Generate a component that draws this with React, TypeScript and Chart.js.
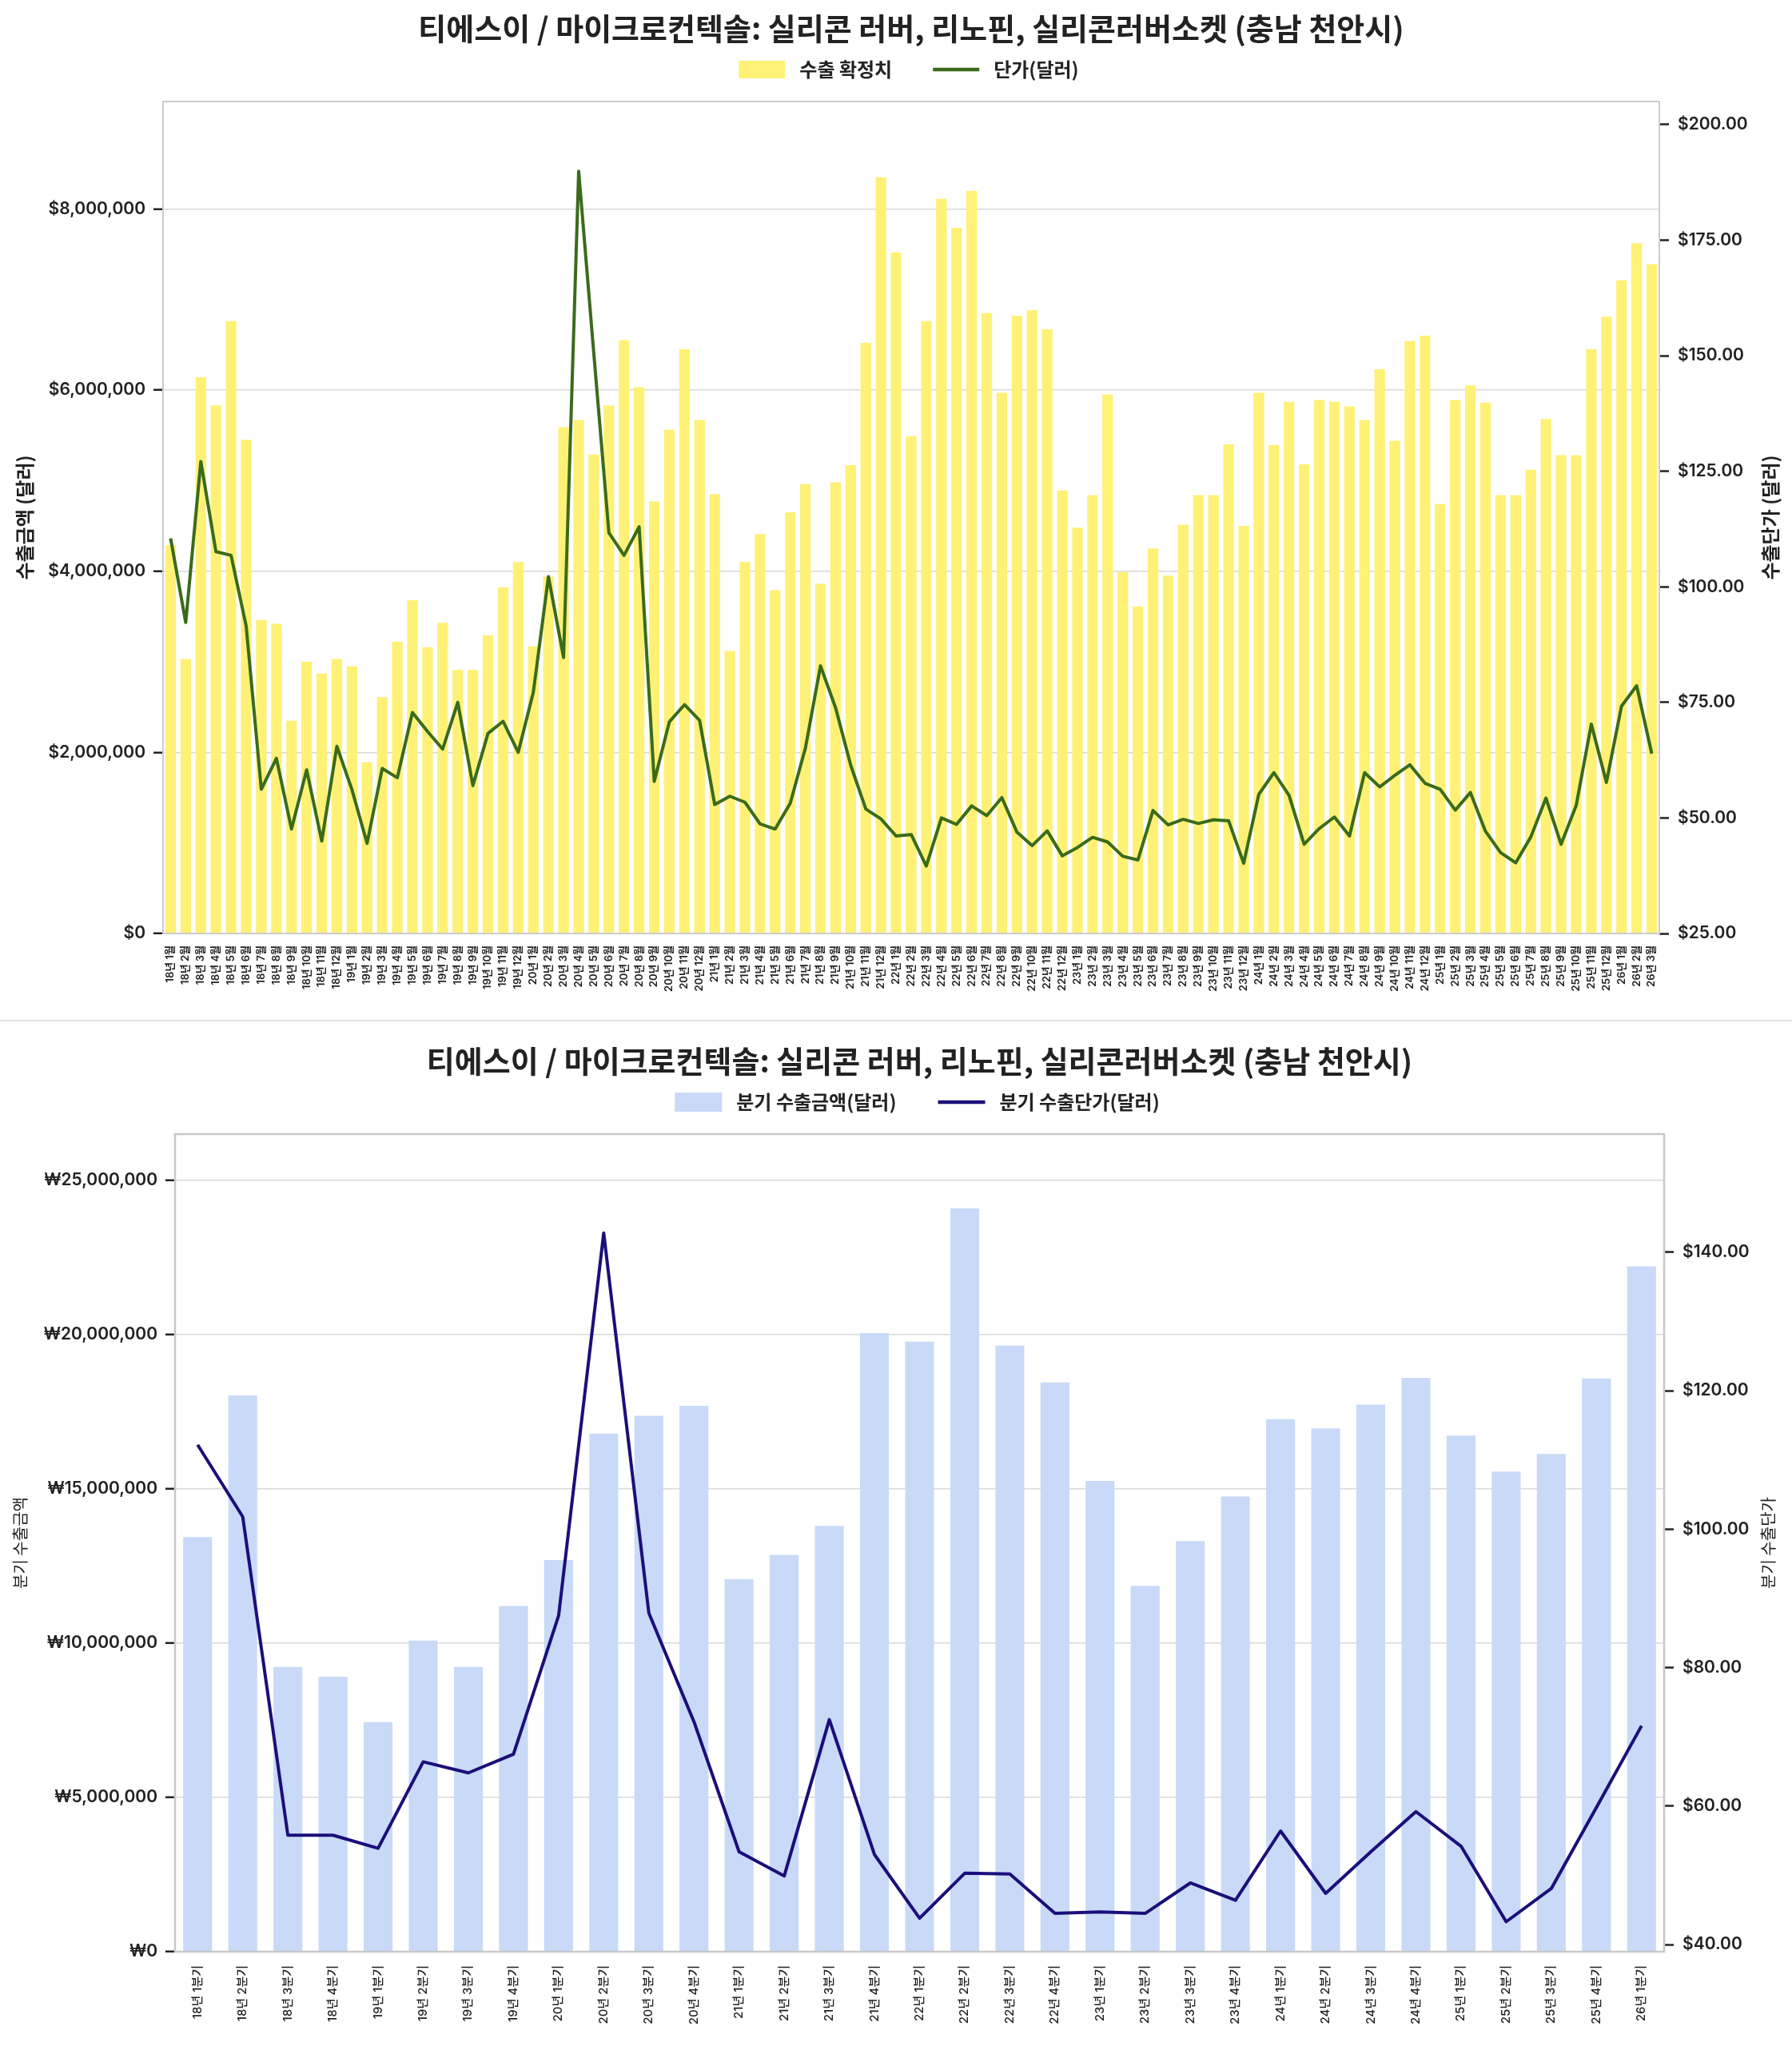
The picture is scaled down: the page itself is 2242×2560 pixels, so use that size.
import React, { useEffect, useRef } from 'react';
import { Chart, registerables } from 'chart.js';

Chart.register(...registerables);

// ---------------- DATA ----------------
const chartTitle = '티에스이 / 마이크로컨텍솔: 실리콘 러버, 리노핀, 실리콘러버소켓 (충남 천안시)';

const monthLabels = [
  '18년 1월', '18년 2월', '18년 3월', '18년 4월', '18년 5월', '18년 6월', '18년 7월', '18년 8월', '18년 9월', '18년 10월', '18년 11월', '18년 12월',
  '19년 1월', '19년 2월', '19년 3월', '19년 4월', '19년 5월', '19년 6월', '19년 7월', '19년 8월', '19년 9월', '19년 10월', '19년 11월', '19년 12월',
  '20년 1월', '20년 2월', '20년 3월', '20년 4월', '20년 5월', '20년 6월', '20년 7월', '20년 8월', '20년 9월', '20년 10월', '20년 11월', '20년 12월',
  '21년 1월', '21년 2월', '21년 3월', '21년 4월', '21년 5월', '21년 6월', '21년 7월', '21년 8월', '21년 9월', '21년 10월', '21년 11월', '21년 12월',
  '22년 1월', '22년 2월', '22년 3월', '22년 4월', '22년 5월', '22년 6월', '22년 7월', '22년 8월', '22년 9월', '22년 10월', '22년 11월', '22년 12월',
  '23년 1월', '23년 2월', '23년 3월', '23년 4월', '23년 5월', '23년 6월', '23년 7월', '23년 8월', '23년 9월', '23년 10월', '23년 11월', '23년 12월',
  '24년 1월', '24년 2월', '24년 3월', '24년 4월', '24년 5월', '24년 6월', '24년 7월', '24년 8월', '24년 9월', '24년 10월', '24년 11월', '24년 12월',
  '25년 1월', '25년 2월', '25년 3월', '25년 4월', '25년 5월', '25년 6월', '25년 7월', '25년 8월', '25년 9월', '25년 10월', '25년 11월', '25년 12월',
  '26년 1월', '26년 2월', '26년 3월',
];

const monthlyExports = [
  4290000, 3030000, 6140000, 5830000, 6760000, 5450000, 3460000, 3420000, 2350000, 3000000, 2870000, 3030000,
  2950000, 1890000, 2610000, 3220000, 3680000, 3160000, 3430000, 2910000, 2910000, 3290000, 3820000, 4100000,
  3170000, 3940000, 5590000, 5670000, 5290000, 5830000, 6550000, 6030000, 4770000, 5560000, 6450000, 5670000,
  4850000, 3120000, 4100000, 4410000, 3790000, 4650000, 4960000, 3860000, 4980000, 5170000, 6520000, 8350000,
  7520000, 5490000, 6760000, 8110000, 7790000, 8200000, 6850000, 5970000, 6820000, 6880000, 6670000, 4890000,
  4480000, 4840000, 5950000, 3990000, 3610000, 4250000, 3950000, 4510000, 4840000, 4840000, 5400000, 4500000,
  5970000, 5390000, 5870000, 5180000, 5890000, 5870000, 5820000, 5670000, 6230000, 5440000, 6540000, 6600000,
  4740000, 5890000, 6050000, 5860000, 4840000, 4840000, 5120000, 5680000, 5280000, 5280000, 6450000, 6810000,
  7210000, 7620000, 7390000,
];

const monthlyPrice = [
  110.5, 92.3, 127.1, 107.6, 106.8, 91.5, 56.2, 62.9, 47.6, 60.4, 45.0, 65.5,
  56.1, 44.5, 60.7, 58.7, 72.8, 68.7, 64.9, 75.0, 57.0, 68.3, 70.9, 64.2,
  77.2, 102.2, 84.7, 189.9, 150.5, 111.7, 106.8, 113.0, 57.9, 70.8, 74.5, 71.1,
  52.9, 54.7, 53.4, 48.7, 47.6, 53.2, 65.1, 82.9, 73.8, 61.4, 51.9, 49.8,
  46.1, 46.4, 39.6, 50.0, 48.6, 52.6, 50.5, 54.4, 46.9, 44.0, 47.2, 41.8,
  43.6, 45.8, 44.8, 41.7, 40.9, 51.6, 48.5, 49.7, 48.8, 49.6, 49.4, 40.2,
  55.1, 59.8, 54.9, 44.3, 47.7, 50.2, 46.1, 59.8, 56.7, 59.2, 61.5, 57.5,
  56.2, 51.7, 55.5, 47.1, 42.5, 40.3, 45.9, 54.3, 44.3, 52.7, 70.3, 57.7,
  74.2, 78.6, 63.9,
];

const quarterLabels = [
  '18년 1분기', '18년 2분기', '18년 3분기', '18년 4분기',
  '19년 1분기', '19년 2분기', '19년 3분기', '19년 4분기',
  '20년 1분기', '20년 2분기', '20년 3분기', '20년 4분기',
  '21년 1분기', '21년 2분기', '21년 3분기', '21년 4분기',
  '22년 1분기', '22년 2분기', '22년 3분기', '22년 4분기',
  '23년 1분기', '23년 2분기', '23년 3분기', '23년 4분기',
  '24년 1분기', '24년 2분기', '24년 3분기', '24년 4분기',
  '25년 1분기', '25년 2분기', '25년 3분기', '25년 4분기',
  '26년 1분기',
];

const quarterlyExports = [
  13440000, 18030000, 9230000, 8910000,
  7440000, 10080000, 9230000, 11200000,
  12690000, 16790000, 17370000, 17690000,
  12070000, 12860000, 13800000, 20050000,
  19770000, 24090000, 19640000, 18450000,
  15260000, 11860000, 13310000, 14750000,
  17260000, 16960000, 17730000, 18600000,
  16730000, 15560000, 16130000, 18580000,
  22210000,
];

const quarterlyPrice = [
  112.2, 101.8, 55.8, 55.8,
  53.9, 66.4, 64.8, 67.5,
  87.5, 142.8, 87.9, 72.2,
  53.4, 49.9, 72.5, 53.0,
  43.8, 50.3, 50.2, 44.5,
  44.7, 44.5, 48.9, 46.4,
  56.4, 47.4, 53.4, 59.2,
  54.2, 43.3, 48.1, 59.8,
  71.6,
];

// Tick values of each axis
const topLeftTicks = [0, 2000000, 4000000, 6000000, 8000000];
const topRightTicks = [25, 50, 75, 100, 125, 150, 175, 200];
const botLeftTicks = [0, 5000000, 10000000, 15000000, 20000000, 25000000];
const botRightTicks = [40, 60, 80, 100, 120, 140];

// ---------------- STYLE ----------------
const LATIN = 'Inter, "Noto Sans CJK KR", sans-serif';
const CJK = '"Noto Sans CJK KR", "Noto Sans", sans-serif';
const TEXT = '#222222';
const W = 2242;

const framePlugin = (lw: number, color: string) => ({
  id: 'frame',
  afterDraw(chart: any) {
    const { left, right, top, bottom } = chart.chartArea;
    const ctx = chart.ctx;
    ctx.save();
    ctx.strokeStyle = color;
    ctx.lineWidth = lw;
    ctx.strokeRect(left, top, right - left, bottom - top);
    ctx.restore();
  },
});

const legendPlugin = (cfg: { y: number; box: number; boxH: number; gapText: number; gapItem: number; font: string }) => ({
  id: 'customLegend',
  afterDraw(chart: any) {
    const ctx = chart.ctx;
    const { left, right } = chart.chartArea;
    ctx.save();
    ctx.font = cfg.font;
    const items = chart.data.datasets.map((ds: any) => ({ ds, w: ctx.measureText(ds.label).width }));
    const total =
      items.reduce((s: number, it: any) => s + cfg.box + cfg.gapText + it.w, 0) + cfg.gapItem * (items.length - 1);
    let x = (left + right) / 2 - total / 2 - 3;
    items.forEach(({ ds, w }: any) => {
      if (ds.type === 'line') {
        ctx.strokeStyle = ds.borderColor;
        ctx.lineWidth = 4.5;
        ctx.lineCap = 'butt';
        ctx.beginPath();
        ctx.moveTo(x, cfg.y);
        ctx.lineTo(x + cfg.box, cfg.y);
        ctx.stroke();
      } else {
        ctx.fillStyle = ds.backgroundColor;
        ctx.fillRect(x, cfg.y - cfg.boxH / 2, cfg.box, cfg.boxH);
      }
      x += cfg.box + cfg.gapText;
      ctx.fillStyle = TEXT;
      ctx.textAlign = 'left';
      ctx.textBaseline = 'middle';
      ctx.fillText(ds.label, x, cfg.y);
      x += w + cfg.gapItem;
    });
    ctx.restore();
  },
});

const sideTitlePlugin = (text: string, x: number, font: string) => ({
  id: 'sideTitle',
  afterDraw(chart: any) {
    const { top, bottom } = chart.chartArea;
    const ctx = chart.ctx;
    ctx.save();
    ctx.translate(x, (top + bottom) / 2);
    ctx.rotate(-Math.PI / 2);
    ctx.font = font;
    ctx.fillStyle = TEXT;
    ctx.textAlign = 'center';
    ctx.textBaseline = 'middle';
    ctx.fillText(text, 0, 0);
    ctx.restore();
  },
});

const fmtInt = (v: number) => Math.round(v).toLocaleString('en-US');
const setTicks = (values: number[]) => (scale: any) => {
  scale.ticks = values.map((v) => ({ value: v }));
};

export default function App() {
  const topRef = useRef<HTMLCanvasElement | null>(null);
  const botRef = useRef<HTMLCanvasElement | null>(null);

  useEffect(() => {
    if (!topRef.current || !botRef.current) return;

    const tickFont = { family: LATIN, size: 21, weight: '600' as any };
    const titleFont = { family: CJK, size: 38, weight: 'bold' as any };

    const topChart = new Chart(topRef.current, {
      type: 'bar',
      data: {
        labels: monthLabels,
        datasets: [
          {
            type: 'bar',
            label: '수출 확정치',
            data: monthlyExports,
            backgroundColor: '#FFF176',
            categoryPercentage: 1,
            barPercentage: 0.7,
            yAxisID: 'y',
            order: 1,
          } as any,
          {
            type: 'line',
            label: '단가(달러)',
            data: monthlyPrice,
            borderColor: '#3A6B1C',
            borderWidth: 4,
            pointRadius: 0,
            tension: 0,
            borderJoinStyle: 'round',
            yAxisID: 'y1',
            order: 0,
          } as any,
        ],
      },
      options: {
        responsive: false,
        animation: false,
        devicePixelRatio: 1,
        layout: { padding: 0 },
        plugins: {
          legend: { display: false },
          tooltip: { enabled: false },
          title: {
            display: true,
            text: chartTitle,
            fullSize: false,
            color: TEXT,
            font: titleFont,
            padding: { top: 13, bottom: 68.4 },
          },
        },
        scales: {
          x: {
            grid: { display: false, drawTicks: false },
            border: { display: false },
            ticks: {
              autoSkip: false,
              maxRotation: 90,
              minRotation: 90,
              padding: 15,
              color: TEXT,
              font: { family: LATIN, size: 13, weight: '600' as any },
            },
            afterFit: (s: any) => {
              s.height = 108;
            },
          },
          y: {
            position: 'left',
            min: 0,
            max: Math.max(...monthlyExports) * 1.1,
            border: { display: false },
            grid: { color: '#d9d9d9', lineWidth: 1.5, tickColor: TEXT, tickLength: 12, tickWidth: 2.5 },
            afterBuildTicks: setTicks(topLeftTicks),
            ticks: {
              padding: 10,
              color: TEXT,
              font: tickFont,
              callback: (v: any) => '$' + fmtInt(Number(v)),
            },
            title: {
              display: true,
              text: '수출금액 (달러)',
              color: TEXT,
              font: { family: CJK, size: 24, weight: 'bold' },
              padding: { top: 16, bottom: 0 },
            },
            afterFit: (s: any) => {
              s.width = 204;
            },
          },
          y1: {
            position: 'right',
            min: 25,
            max: 205,
            border: { display: false },
            grid: { drawOnChartArea: false, tickColor: TEXT, tickLength: 12, tickWidth: 2.5 },
            afterBuildTicks: setTicks(topRightTicks),
            ticks: {
              padding: 11,
              color: TEXT,
              font: tickFont,
              callback: (v: any) => '$' + Number(v).toFixed(2),
            },
            afterFit: (s: any) => {
              s.width = 166;
            },
          },
        },
      } as any,
      plugins: [
        framePlugin(2, '#cccccc'),
        legendPlugin({ y: 87, box: 58, boxH: 22, gapText: 18, gapItem: 51, font: `bold 24px ${CJK}` }),
        sideTitlePlugin('수출단가 (달러)', 2215, `bold 24px ${CJK}`),
      ],
    });

    const botChart = new Chart(botRef.current, {
      type: 'bar',
      data: {
        labels: quarterLabels,
        datasets: [
          {
            type: 'bar',
            label: '분기 수출금액(달러)',
            data: quarterlyExports,
            backgroundColor: '#C8DAF7',
            categoryPercentage: 1,
            barPercentage: 0.64,
            yAxisID: 'y',
            order: 1,
          } as any,
          {
            type: 'line',
            label: '분기 수출단가(달러)',
            data: quarterlyPrice,
            borderColor: '#1A0F7A',
            borderWidth: 4,
            pointRadius: 0,
            tension: 0,
            borderJoinStyle: 'round',
            yAxisID: 'y1',
            order: 0,
          } as any,
        ],
      },
      options: {
        responsive: false,
        animation: false,
        devicePixelRatio: 1,
        layout: { padding: 0 },
        plugins: {
          legend: { display: false },
          tooltip: { enabled: false },
          title: {
            display: true,
            text: chartTitle,
            fullSize: false,
            color: TEXT,
            font: titleFont,
            padding: { top: 27, bottom: 68.4 },
          },
        },
        scales: {
          x: {
            grid: { display: false, drawTicks: false },
            border: { display: false },
            ticks: {
              autoSkip: false,
              maxRotation: 90,
              minRotation: 90,
              padding: 17,
              color: TEXT,
              font: { family: LATIN, size: 15, weight: '500' as any },
            },
            afterFit: (s: any) => {
              s.height = 118;
            },
          },
          y: {
            position: 'left',
            min: 0,
            max: Math.max(...quarterlyExports) * 1.1,
            border: { display: false },
            grid: { color: '#d9d9d9', lineWidth: 1.5, tickColor: TEXT, tickLength: 12, tickWidth: 2.5 },
            afterBuildTicks: setTicks(botLeftTicks),
            ticks: {
              padding: 10,
              color: TEXT,
              font: tickFont,
              callback: (v: any) => '₩' + fmtInt(Number(v)),
            },
            title: {
              display: true,
              text: '분기 수출금액',
              color: TEXT,
              font: { family: CJK, size: 20, weight: 'normal' },
              padding: { top: 13, bottom: 0 },
            },
            afterFit: (s: any) => {
              s.width = 219;
            },
          },
          y1: {
            position: 'right',
            min: Math.min(...quarterlyPrice) * 0.9,
            max: Math.max(...quarterlyPrice) * 1.1,
            border: { display: false },
            grid: { drawOnChartArea: false, tickColor: TEXT, tickLength: 12, tickWidth: 2.5 },
            afterBuildTicks: setTicks(botRightTicks),
            ticks: {
              padding: 11,
              color: TEXT,
              font: tickFont,
              callback: (v: any) => '$' + Number(v).toFixed(2),
            },
            afterFit: (s: any) => {
              s.width = 160;
            },
          },
        },
      } as any,
      plugins: [
        framePlugin(2.5, '#c8c8c8'),
        legendPlugin({ y: 101, box: 59, boxH: 24, gapText: 18, gapItem: 52, font: `bold 24px ${CJK}` }),
        sideTitlePlugin('분기 수출단가', 2212, `20px ${CJK}`),
      ],
    });

    return () => {
      topChart.destroy();
      botChart.destroy();
    };
  }, []);

  return (
    <div style={{ position: 'absolute', left: 0, top: 0, width: W, height: 2560, background: '#ffffff' }}>
      <canvas
        ref={topRef}
        width={W}
        height={1276}
        style={{ position: 'absolute', left: 0, top: 0, width: W, height: 1276, display: 'block' }}
      />
      <div style={{ position: 'absolute', left: 0, top: 1276, width: W, height: 2, background: '#e2e2e2' }} />
      <canvas
        ref={botRef}
        width={W}
        height={1282}
        style={{ position: 'absolute', left: 0, top: 1278, width: W, height: 1282, display: 'block' }}
      />
    </div>
  );
}
